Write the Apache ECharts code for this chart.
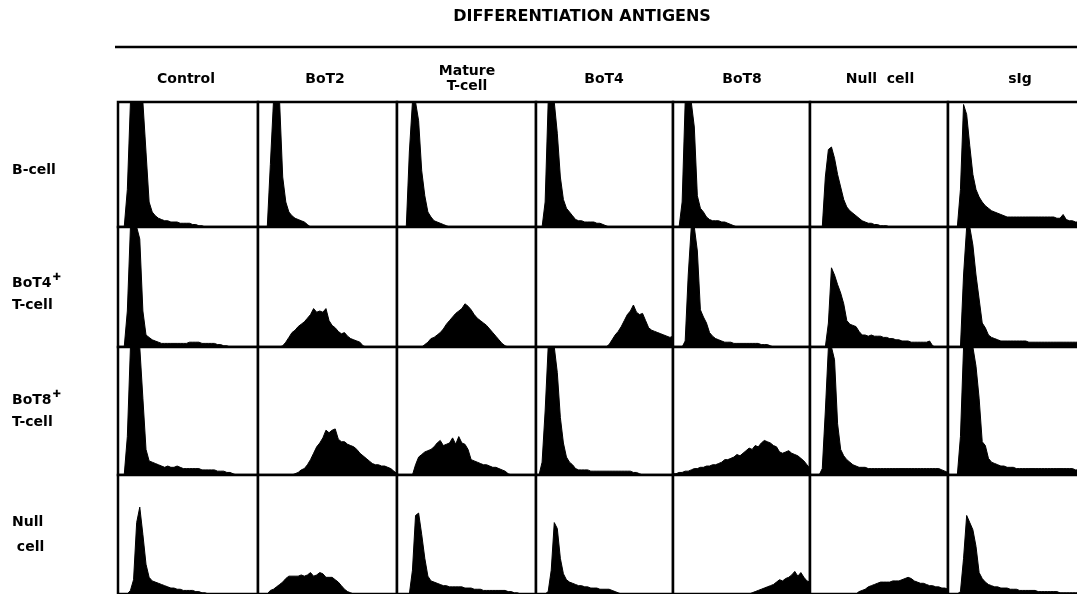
<!DOCTYPE html>
<html>
<head>
<meta charset="utf-8">
<script src="https://cdn.jsdelivr.net/npm/echarts@6/dist/echarts.min.js"></script>
<style>
html,body{margin:0;padding:0;background:#fff;overflow:hidden;width:1077px;height:594px;}
#chart{width:1100px;height:594px;}
</style>
</head>
<body>
<div id="chart"></div>
<script>
// ---- labels ----
const chartTitle = 'DIFFERENTIATION ANTIGENS';
const colLabels = ['Control', 'BoT2', 'Mature\nT-cell', 'BoT4', 'BoT8', 'Null  cell', 'sIg'];
const rowLabels = ['B-cell', 'BoT4+ T-cell', 'BoT8+ T-cell', 'Null cell'];

// ---- histogram values (percent of panel height), channels 0..45 ----
// Row 1: B-cell
const bCell_Control = [0,0,0,30,100,100,100,100,100,60,20,12,9,7,6,5,5,4,4,4,3,3,3,3,2,2,1,1,0];
const bCell_BoT2    = [0,0,0,0,50,100,100,100,40,20,12,9,7,6,5,4,2,0];
const bCell_Mature  = [0,0,0,0,60,100,100,85,45,25,12,8,5,4,3,2,1,0];
const bCell_BoT4    = [0,0,0,20,100,100,100,75,40,22,15,12,9,6,5,5,4,4,4,4,3,3,2,1,0];
const bCell_BoT8    = [0,0,0,20,100,100,100,80,25,15,12,8,6,5,5,5,4,4,3,2,1,0];
const bCell_Null    = [0,0,0,0,0,40,62,64,55,42,32,22,16,13,11,9,7,5,4,3,3,2,2,1,1,1,0];
const bCell_sIg     = [0,0,0,0,30,98,90,65,42,30,24,20,17,15,13,12,11,10,9,8,8,8,8,8,8,8,8,8,8,8,8,8,8,8,8,7,7,10,6,5,5,4,4,4,4,4];
// Row 2: BoT4+ T-cell
const t4_Control = [0,0,0,30,100,100,100,90,30,10,8,6,5,4,3,3,3,3,3,3,3,3,3,4,4,4,4,3,3,3,3,3,2,2,1,1,0];
const t4_BoT2    = [0,0,0,0,0,0,0,0,1,4,8,12,14,17,19,21,24,27,32,29,30,29,32,22,18,16,13,11,12,9,7,6,5,4,1,0];
const t4_Mature  = [0,0,0,0,0,0,0,0,0,2,4,7,8,10,12,15,19,22,25,28,30,32,36,34,31,27,24,22,20,18,15,12,9,6,3,1,0];
const t4_BoT4    = [0,0,0,0,0,0,0,0,0,0,0,0,0,0,0,0,0,0,0,0,0,0,0,0,2,6,10,13,17,22,27,30,35,29,27,28,22,16,14,13,12,11,10,9,8,9];
const t4_BoT8    = [0,0,0,0,5,60,100,100,80,31,25,20,12,9,7,6,5,4,4,4,3,3,3,3,3,3,3,3,3,2,2,2,1,0];
const t4_Null    = [0,0,0,0,0,0,20,66,60,52,45,36,22,19,18,17,13,10,10,9,10,9,9,9,8,8,7,7,6,6,5,5,5,4,4,4,4,4,4,5,1,0];
const t4_sIg     = [0,0,0,0,0,60,100,100,85,60,40,20,16,10,8,7,6,5,5,5,5,5,5,5,5,5,4,4,4,4,4,4,4,4,4,4,4,4,4,4,4,4,4,4,4,4];
// Row 3: BoT8+ T-cell
const t8_Control = [0,0,0,30,100,100,100,100,60,20,11,10,9,8,7,6,7,6,6,7,6,5,5,5,5,5,5,4,4,4,4,4,3,3,3,2,2,1,0];
const t8_BoT2    = [0,0,0,0,0,0,0,0,0,0,0,0,1,2,4,5,8,12,17,22,25,29,35,33,35,36,28,26,26,24,23,22,20,17,15,13,11,9,8,8,7,7,6,5,3,1];
const t8_Mature  = [0,0,0,0,0,0,8,14,16,18,19,20,22,25,27,23,24,25,29,24,30,25,24,20,12,11,10,9,8,8,7,6,6,5,4,3,1,0];
const t8_BoT4    = [0,0,10,50,100,100,100,80,45,25,14,10,8,5,4,4,4,4,3,3,3,3,3,3,3,3,3,3,3,3,3,3,2,2,1,0];
const t8_BoT8    = [1,1,2,2,3,3,4,5,5,6,6,7,7,8,8,9,10,12,12,13,14,16,15,17,19,21,20,23,22,25,27,26,25,23,22,18,17,18,19,17,16,15,13,11,8,5];
const t8_Null    = [0,0,0,0,5,50,100,100,90,40,20,15,12,10,8,7,6,6,6,5,5,5,5,5,5,5,5,5,5,5,5,5,5,5,5,5,5,5,5,5,5,5,5,4,3,2];
const t8_sIg     = [0,0,0,0,30,100,100,100,100,85,60,26,23,13,10,9,8,7,7,6,6,6,5,5,5,5,5,5,5,5,5,5,5,5,5,5,5,5,5,5,5,4,4,4,4,4];
// Row 4: Null cell
const nc_Control = [0,0,0,0,3,12,60,73,50,25,14,11,10,9,8,7,6,5,5,4,4,3,3,3,3,2,2,1,1,0];
const nc_BoT2    = [0,0,0,0,3,4,6,8,10,13,15,15,15,15,16,15,16,18,15,16,18,17,14,14,14,12,10,7,4,2,1,0];
const nc_Mature  = [0,0,0,0,0,20,66,68,50,30,15,11,10,9,8,7,7,6,6,6,6,6,5,5,5,4,4,4,3,3,3,3,3,3,3,3,2,2,1,1,0];
const nc_BoT4    = [0,0,0,0,2,20,60,55,30,17,12,10,9,8,7,7,6,6,5,5,5,4,4,4,4,3,2,1,0];
const nc_BoT8    = [0,0,0,0,0,0,0,0,0,0,0,0,0,0,0,0,0,0,0,0,0,0,0,0,0,0,1,2,3,4,5,6,7,8,10,12,11,13,14,16,19,15,18,14,11,10];
const nc_Null    = [0,0,0,0,0,0,0,0,0,0,0,0,0,0,0,0,2,3,4,6,7,8,9,10,10,10,10,11,11,11,12,13,14,13,11,10,9,9,8,7,7,6,6,5,5,4];
const nc_sIg     = [0,0,0,0,2,30,66,60,54,40,18,13,10,8,7,6,6,5,5,5,4,4,4,3,3,3,3,3,3,2,2,2,2,2,2,2,1,1,1,1,1,1,1,1,1,1];

const panels = [
  [bCell_Control, bCell_BoT2, bCell_Mature, bCell_BoT4, bCell_BoT8, bCell_Null, bCell_sIg],
  [t4_Control, t4_BoT2, t4_Mature, t4_BoT4, t4_BoT8, t4_Null, t4_sIg],
  [t8_Control, t8_BoT2, t8_Mature, t8_BoT4, t8_BoT8, t8_Null, t8_sIg],
  [nc_Control, nc_BoT2, nc_Mature, nc_BoT4, nc_BoT8, nc_Null, nc_sIg]
];

// ---- layout ----
const colX = [118, 258, 397, 536, 673, 810, 948, 1088];
const rowY = [102, 227, 347, 475, 600];
const FONT = '"DejaVu Sans", "Liberation Sans", Arial, sans-serif';

const grids = [], xAxes = [], yAxes = [], series = [];
let k = 0;
for (let r = 0; r < 4; r++) {
  for (let c = 0; c < 7; c++) {
    const w = colX[c + 1] - colX[c];
    grids.push({
      left: colX[c], top: rowY[r],
      width: w, height: rowY[r + 1] - rowY[r],
      show: true, borderColor: '#000', borderWidth: 2.5, backgroundColor: '#fff',
      containLabel: false
    });
    xAxes.push({ type: 'value', gridIndex: k, min: 0, max: 45, show: false });
    yAxes.push({ type: 'value', gridIndex: k, min: 0, max: 100, show: false });
    series.push({
      type: 'line', xAxisIndex: k, yAxisIndex: k,
      data: panels[r][c].map((v, i) => [i, v]),
      symbol: 'none', smooth: false, silent: true,
      lineStyle: { color: '#000', width: 1 },
      areaStyle: { color: '#000', opacity: 1 }
    });
    k++;
  }
}

const colCenters = [186, 325, 467, 604, 742, 880, 1020];
const graphics = [];
graphics.push({
  type: 'text', x: 582, y: 17,
  style: { text: chartTitle, font: 'bold 16px ' + FONT, fill: '#000', textAlign: 'center', textVerticalAlign: 'middle' }
});
graphics.push({
  type: 'line', shape: { x1: 115, y1: 47, x2: 1100, y2: 47 },
  style: { stroke: '#000', lineWidth: 2.5 }
});
colLabels.forEach((t, i) => {
  graphics.push({
    type: 'text', x: colCenters[i], y: 79,
    style: { text: t, font: 'bold 14px ' + FONT, fill: '#000', textAlign: 'center', textVerticalAlign: 'middle', lineHeight: 15 }
  });
});
const supRich = {
  a: { font: 'bold 14px ' + FONT, fill: '#000', lineHeight: 22 },
  s: { font: 'bold 10px ' + FONT, fill: '#000', verticalAlign: 'top', lineHeight: 20, padding: [0, 0, 0, 1] },
  b: { font: 'bold 14px ' + FONT, fill: '#000', lineHeight: 25 }
};
function rowText(text, x, y) {
  graphics.push({ type: 'text', x: x, y: y,
    style: { text: text, rich: supRich, textVerticalAlign: 'middle', fill: '#000', font: 'bold 14px ' + FONT } });
}
rowText('{a|' + rowLabels[0] + '}', 12, 170);
rowText('{a|BoT4}{s|\u271A}\n{a|T-cell}', 12, 294);
rowText('{a|BoT8}{s|\u271A}\n{a|T-cell}', 12, 411);
rowText('{b|Null}\n{b| cell}', 12, 535);

const chart = echarts.init(document.getElementById('chart'), null, { renderer: 'canvas' });
chart.setOption({
  animation: false,
  backgroundColor: '#fff',
  grid: grids, xAxis: xAxes, yAxis: yAxes, series: series,
  graphic: graphics
});
</script>
</body>
</html>
